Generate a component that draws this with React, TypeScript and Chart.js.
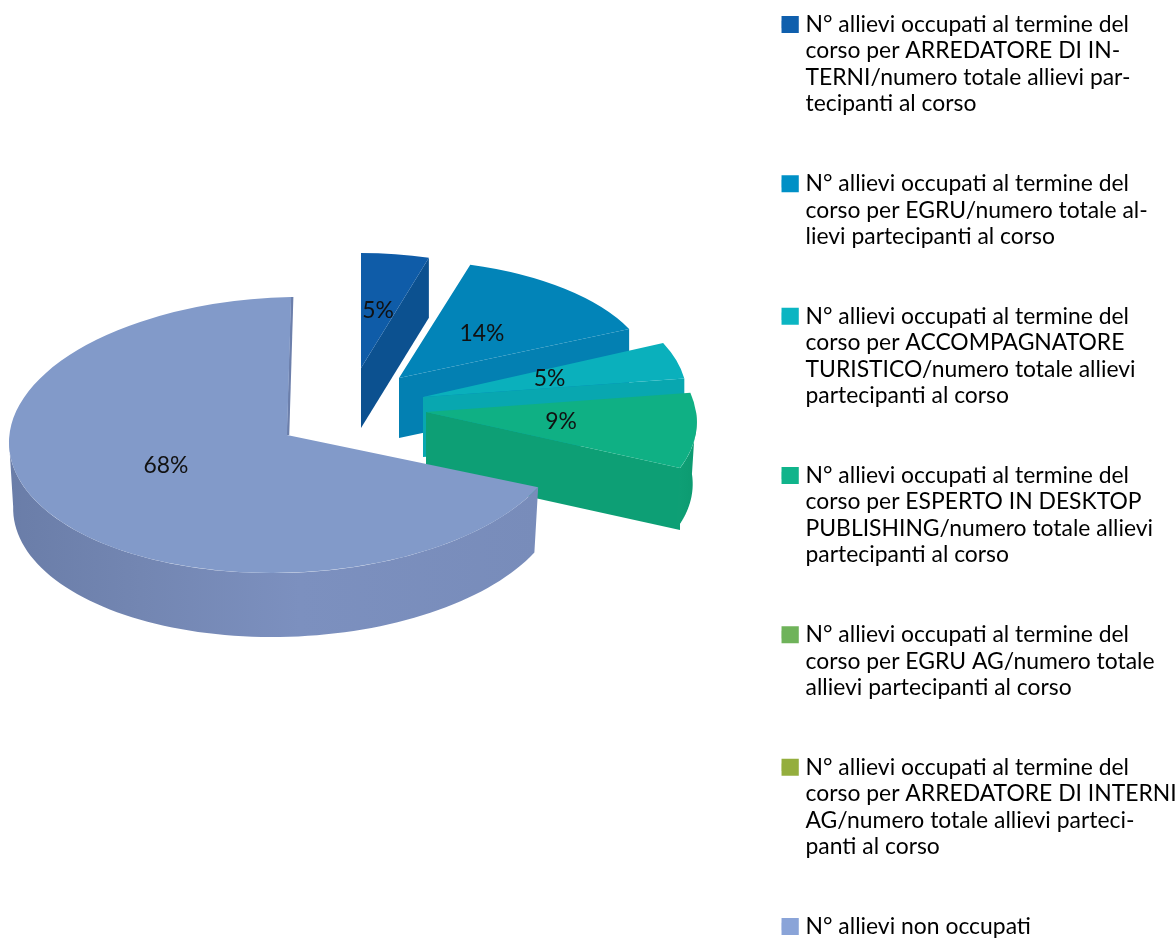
import React, { useEffect, useRef } from "react";
import { Chart, registerables } from "chart.js";

Chart.register(...registerables);

// ---- data ----
const legendLines: string[][] = [
  ["N° allievi occupati al termine del", "corso per ARREDATORE DI IN-", "TERNI/numero totale allievi par-", "tecipanti al corso"],
  ["N° allievi occupati al termine del", "corso per EGRU/numero totale al-", "lievi partecipanti al corso"],
  ["N° allievi occupati al termine del", "corso per ACCOMPAGNATORE", "TURISTICO/numero totale allievi", "partecipanti al corso"],
  ["N° allievi occupati al termine del", "corso per ESPERTO IN DESKTOP", "PUBLISHING/numero totale allievi", "partecipanti al corso"],
  ["N° allievi occupati al termine del", "corso per EGRU AG/numero totale", "allievi partecipanti al corso"],
  ["N° allievi occupati al termine del", "corso per ARREDATORE DI INTERNI", "AG/numero totale allievi parteci-", "panti al corso"],
  ["N° allievi non occupati"],
];
const categories = legendLines.map((l) => l.join(" "));
const students = [1, 3, 1, 2, 0, 0, 15];
const percentLabels = ["5%", "14%", "5%", "9%", "", "", "68%"];

// ---- styles ----
const topColors = ["#0F5CA8", "#0284B8", "#0AB0BC", "#0FB084", "#6FB35A", "#94AE3D", "#829AC9"];
const wallColors = ["#0C5190", "#0380B2", "#08A7B0", "#0D9F75", "#64A250", "#859C36", "#7A8FBE"];
const legendColors = ["#0F5FAD", "#0090C6", "#0BB5C2", "#10B48B", "#6FB35A", "#94AE3D", "#8AA4D8"];

// the flat pie is laid on a tilted plane: each slice gets its own exploded anchor and projection
const anchorX = [361, 399, 423, 426, 0, 0, 287];
const anchorY = [368, 378, 397, 412, 0, 0, 435];
const radiusX = [241, 253, 264, 270, 1, 1, 278];
const radiusY = [115, 118, 130, 135, 1, 1, 138];
const tilt = [0, 0, 0, 0, 0, 0, -0.02];
const shear = [0, 0, 0, 0.15, 0, 0, -0.03];
const depth = [60, 60, 60, 62, 0, 0, 66];
const bottomShrink = [1, 1, 1, 0.985, 1, 1, 0.985];
const labelShiftX = [0, 0, 0, 0, 0, 0, -3];
const labelShiftY = [0, 0, 0, 0, 0, 0, -9];
const drawOrder = [0, 1, 2, 3, 6];
const FONT = "Lato";
const FONT_SIZE = 22.9;
const LINE_HEIGHT = 26.53;

function projectUnit(i: number, ux: number, uy: number) {
  return {
    x: anchorX[i] + ux * radiusX[i] + uy * radiusY[i] * shear[i],
    y: anchorY[i] + uy * radiusY[i] + ux * radiusX[i] * tilt[i],
  };
}

function project(i: number, a: number, shrink = 1, down = 0) {
  const p = projectUnit(i, Math.cos(a) * shrink, Math.sin(a) * shrink);
  return { x: p.x, y: p.y + down };
}

const pie3d = {
  id: "pie3d",
  beforeDraw(chart: any) {
    // the legend's text runs past its fitted box; let its clip reach the canvas edge
    const legend = chart.legend;
    legend.right = chart.width;
    legend.width = chart.width - legend.left;
  },
  beforeDatasetsDraw(chart: any) {
    const ctx: CanvasRenderingContext2D = chart.ctx;
    const arcs = chart.getDatasetMeta(0).data;
    for (const i of drawOrder) {
      const arc = arcs[i];
      const { startAngle, endAngle, outerRadius, x, y } = arc.getProps(["startAngle", "endAngle", "outerRadius", "x", "y"]);
      const d = depth[i];
      const tipTop = projectUnit(i, 0, 0);

      // radial wall on the end edge, when it faces the viewer
      const endTop = project(i, endAngle);
      if (endAngle < Math.PI) {
        ctx.fillStyle = wallColors[i];
        ctx.beginPath();
        ctx.moveTo(tipTop.x, tipTop.y);
        ctx.lineTo(endTop.x, endTop.y);
        ctx.lineTo(endTop.x, endTop.y + d);
        ctx.lineTo(tipTop.x, tipTop.y + d);
        ctx.closePath();
        ctx.fill();
      }

      // outer rim, only the part on the near half of the ellipse
      const from = Math.max(startAngle, 0);
      const to = Math.min(endAngle, Math.PI);
      if (to > from) {
        const left = project(i, to);
        const right = project(i, from);
        const g = ctx.createLinearGradient(Math.min(left.x, right.x), 0, Math.max(left.x, right.x), 0);
        if (i === 6) {
          g.addColorStop(0, "#6A7DA8");
          g.addColorStop(0.25, "#7386B2");
          g.addColorStop(0.55, "#7C90BF");
          g.addColorStop(1, "#788CBA");
        } else {
          g.addColorStop(0, "#0E9F75");
          g.addColorStop(1, "#0C9A70");
        }
        ctx.fillStyle = g;
        ctx.beginPath();
        const steps = 80;
        for (let s = 0; s <= steps; s++) {
          const p = project(i, from + ((to - from) * s) / steps);
          if (s === 0) ctx.moveTo(p.x, p.y);
          else ctx.lineTo(p.x, p.y);
        }
        for (let s = steps; s >= 0; s--) {
          const p = project(i, from + ((to - from) * s) / steps, bottomShrink[i], d);
          ctx.lineTo(p.x, p.y);
        }
        ctx.closePath();
        ctx.fill();
      }

      // thin inner wall of the big slice along its closing edge
      if (i === 6) {
        ctx.strokeStyle = "#6C7FAB";
        ctx.lineWidth = 2.5;
        ctx.beginPath();
        ctx.moveTo(endTop.x + 1, endTop.y);
        ctx.lineTo(tipTop.x + 1, tipTop.y);
        ctx.stroke();
      }

      // the library's own arc, on the projected plane
      const k = 1 / outerRadius;
      ctx.save();
      ctx.transform(radiusX[i] * k, tilt[i] * radiusX[i] * k, shear[i] * radiusY[i] * k, radiusY[i] * k, anchorX[i], anchorY[i]);
      ctx.translate(-x, -y);
      arc.draw(ctx);
      ctx.restore();
    }
    return false;
  },
  afterDraw(chart: any) {
    const ctx: CanvasRenderingContext2D = chart.ctx;
    const arcs = chart.getDatasetMeta(0).data;
    ctx.save();
    ctx.font = `${FONT_SIZE}px ${FONT}`;
    ctx.fillStyle = "#111111";
    ctx.textAlign = "center";
    ctx.textBaseline = "middle";
    arcs.forEach((arc: any, i: number) => {
      if (!percentLabels[i]) return;
      const c = arc.getCenterPoint();
      const k = 1 / arc.outerRadius;
      const p = projectUnit(i, (c.x - arc.x) * k, (c.y - arc.y) * k);
      ctx.fillText(percentLabels[i], p.x + labelShiftX[i], p.y + labelShiftY[i]);
    });
    ctx.restore();
  },
};

export default function App() {
  const ref = useRef<HTMLCanvasElement>(null);
  useEffect(() => {
    const chart = new Chart(ref.current as HTMLCanvasElement, {
      type: "pie",
      data: {
        labels: categories,
        datasets: [{ data: students, backgroundColor: topColors, borderWidth: 0 }],
      },
      options: {
        responsive: false,
        animation: false,
        events: [],
        rotation: 0,
        layout: { padding: { top: 13, right: 36, bottom: -6, left: 0 } },
        plugins: {
          tooltip: { enabled: false },
          legend: {
            display: true,
            position: "right",
            align: "start",
            labels: {
              padding: 0,
              boxWidth: 12.55,
              boxHeight: 7.6,
              color: "#111111",
              font: { family: FONT, size: FONT_SIZE, lineHeight: LINE_HEIGHT / FONT_SIZE },
              generateLabels: () =>
                legendLines.map((lines, i) => ({
                  text: i < legendLines.length - 1 ? [...lines, "", ""] : lines,
                  fillStyle: legendColors[i],
                  strokeStyle: legendColors[i],
                  lineWidth: 9.4,
                  hidden: false,
                  index: i,
                })),
            },
          },
        },
      } as any,
      plugins: [pie3d as any],
    });
    return () => chart.destroy();
  }, []);
  return (
    <div style={{ position: "absolute", left: 0, top: 0, width: 1175, height: 938, overflow: "hidden", background: "#fff" }}>
      <canvas ref={ref} width={1175} height={938} style={{ display: "block" }} />
    </div>
  );
}
